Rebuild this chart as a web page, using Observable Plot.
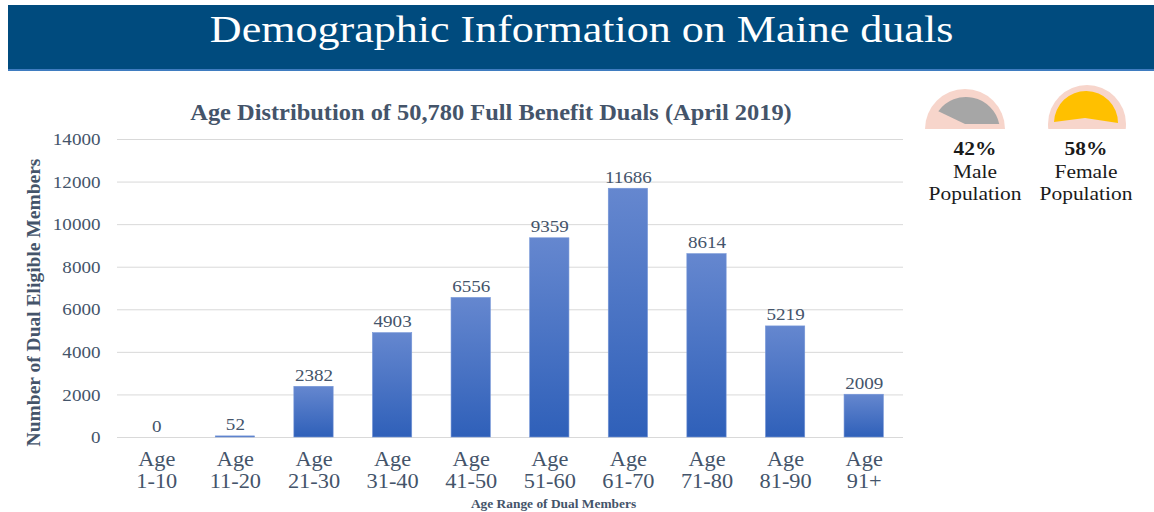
<!DOCTYPE html>
<html>
<head>
<meta charset="utf-8">
<script src="https://cdn.jsdelivr.net/npm/d3@7"></script>
<script src="https://cdn.jsdelivr.net/npm/@observablehq/plot@0.6"></script>
<style>
  html, body { margin: 0; padding: 0; background: #fff; width: 1154px; height: 512px; overflow: hidden; }
  body { position: relative; font-family: "Liberation Serif", "Times New Roman", serif; }
  #banner { position: absolute; left: 8px; top: 5px; width: 1146px; height: 64px; background: #004b7e; border-bottom: 2px solid #3f7cc0; }
  #banner div { position: absolute; left: 0; right: 0; top: 6px; text-align: center; color: #fff; font-size: 37px; line-height: 37px; transform: scaleX(1.19); transform-origin: 570px 0; }
  #charttitle { position: absolute; left: 0; width: 982px; top: 100px; text-align: center; font-weight: bold; font-size: 22.5px; color: #44546a; line-height: 26px; transform: scaleX(1.085); transform-origin: 491px 0; }
  #chart { position: absolute; left: 0; top: 90px; }
  #gender { position: absolute; left: 0; top: 0; pointer-events: none; }
</style>
</head>
<body>
<div id="banner"><div>Demographic Information on Maine duals</div></div>
<div id="charttitle">Age Distribution of 50,780 Full Benefit Duals (April 2019)</div>
<div id="chart"></div>
<svg id="gender" width="1154" height="512"></svg>
<script>
// ---- data ----
const categories = ["Age\n1-10", "Age\n11-20", "Age\n21-30", "Age\n31-40", "Age\n41-50", "Age\n51-60", "Age\n61-70", "Age\n71-80", "Age\n81-90", "Age\n91+"];
const counts = [0, 52, 2382, 4903, 6556, 9359, 11686, 8614, 5219, 2009];
const yTicks = [0, 2000, 4000, 6000, 8000, 10000, 12000, 14000];
const yLabel = "Number of Dual Eligible Members";
const xLabel = "Age Range of Dual Members";
const genderNames = ["Male", "Female"];
const genderPct = [42, 58];

const data = categories.map((c, i) => ({cat: c, value: counts[i]}));
const serif = "'Liberation Serif', 'Times New Roman', serif";
const slate = "#44546a";

const gradDefs = () => {
  const defs = d3.create("svg:defs");
  const g = defs.append("linearGradient").attr("id", "barGrad").attr("x1", 0).attr("y1", 0).attr("x2", 0).attr("y2", 1);
  g.append("stop").attr("offset", "0%").attr("stop-color", "#6587cf");
  g.append("stop").attr("offset", "100%").attr("stop-color", "#2f60b9");
  return defs.node();
};

const chart = Plot.plot({
  width: 920,
  height: 422,
  marginTop: 49,
  marginBottom: 75,
  marginLeft: 117,
  marginRight: 17,
  style: {fontFamily: serif, background: "transparent", color: slate, overflow: "visible"},
  x: {domain: categories, paddingInner: 0.5, paddingOuter: 0.25, round: false, label: null},
  y: {domain: [0, 14000], label: null},
  marks: [
    gradDefs,
    Plot.gridY(yTicks, {stroke: "#d9d9d9", strokeOpacity: 1, strokeWidth: 1}),
    Plot.barY(data, {x: "cat", y: "value", fill: "url(#barGrad)", stroke: "#7596d8", strokeWidth: 0.6}),
    Plot.text(data, {x: "cat", y: "value", text: d => String(d.value), lineAnchor: "bottom", dy: -6, fontSize: 17.5, fill: slate}),
    Plot.axisX({tickSize: 0, tickPadding: 14, fontSize: 20.5, lineHeight: 1.03, color: slate, label: null}),
    Plot.axisY(yTicks, {tickSize: 0, tickPadding: 17, fontSize: 17.5, color: slate, label: null, tickFormat: d => String(d)}),
    Plot.text([yLabel], {frameAnchor: "left", textAnchor: "middle", dx: -84, dy: 14, rotate: -90, fontSize: 19.5, fontWeight: "bold", fill: slate}),
    Plot.text([xLabel], {frameAnchor: "bottom", dx: 43, dy: 70, fontSize: 12.3, fontWeight: "bold", fill: slate})
  ]
});
// the reference's lettering is slightly wide: stretch each text horizontally about its own anchor
d3.select(chart).selectAll("text").each(function () {
  const t = this.getAttribute("transform");
  if (t && t.includes("translate") && !t.includes("rotate")) this.setAttribute("transform", t + " scale(1.09,1)");
});
document.getElementById("chart").appendChild(chart);

// ---- gender indicators ----
const svg = d3.select("#gender");
const peach = "#f7d5cb";
const deg = Math.PI / 180;
const icons = [
  {textX: 975, color: "#a6a6a6"},
  {textX: 1086, color: "#ffc000"}
];
svg.append("defs").append("clipPath").attr("id", "peachClip")
  .append("rect").attr("x", 900).attr("y", 60).attr("width", 254).attr("height", 69);
// male: peach half-disc with a grey wedge
const male = d3.path();
male.arc(965, 129, 40, Math.PI, 2 * Math.PI); male.closePath();
svg.append("path").attr("d", male.toString()).attr("fill", peach);
const maleWedge = d3.path();
maleWedge.moveTo(965, 124);
maleWedge.lineTo(966 + 34 * Math.cos(-144.5 * deg), 131 + 34 * Math.sin(-144.5 * deg));
maleWedge.arc(966, 131, 34, -144.5 * deg, -12 * deg);
maleWedge.closePath();
svg.append("path").attr("d", maleWedge.toString()).attr("fill", icons[0].color);
// female: peach dome with a yellow cap
const fem = d3.path();
fem.arc(1087, 124, 39, 0, 2 * Math.PI);
svg.append("path").attr("d", fem.toString()).attr("fill", peach).attr("clip-path", "url(#peachClip)");
const femCap = d3.path();
femCap.moveTo(1118, 123);
femCap.lineTo(1085, 118);
femCap.lineTo(1054, 122);
femCap.arc(1086, 123, 32, Math.atan2(-1, -32), 0);
femCap.closePath();
svg.append("path").attr("d", femCap.toString()).attr("fill", icons[1].color);

icons.forEach((ic, i) => {
  const lines = [
    {txt: genderPct[i] + "%", y: 155, bold: true},
    {txt: genderNames[i], y: 178, bold: false},
    {txt: "Population", y: 200, bold: false}
  ];
  lines.forEach(l => {
    svg.append("text")
      .attr("transform", `translate(${ic.textX},${l.y}) scale(1.1,1)`)
      .attr("text-anchor", "middle")
      .attr("font-family", serif)
      .attr("font-size", 19.5)
      .attr("font-weight", l.bold ? "bold" : "normal")
      .attr("fill", "#1a1a1a")
      .text(l.txt);
  });
});
</script>
</body>
</html>
